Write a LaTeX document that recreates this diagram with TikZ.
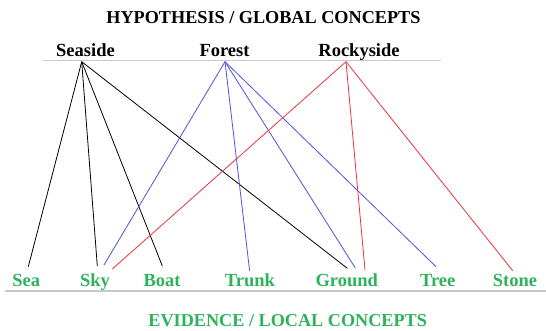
\documentclass[tikz,border=0pt]{standalone}
\usepackage{fontspec}
\setmainfont{Liberation Serif}
\definecolor{lblgreen}{RGB}{46,178,92}
\definecolor{lnblue}{RGB}{80,80,230}
\definecolor{lnred}{RGB}{238,50,60}
\definecolor{rulegray}{RGB}{200,200,200}
\begin{document}
\begin{tikzpicture}[x=1pt,y=-1pt,
  lbl/.style={inner sep=0pt,anchor=base,font=\fontsize{18.5}{20}\selectfont\bfseries},
  toplbl/.style={lbl,text=black},
  botlbl/.style={lbl,text=lblgreen},
  heading/.style={inner sep=0pt,anchor=base,font=\fontsize{18.2}{20}\selectfont\bfseries},
  rule/.style={draw=rulegray,line width=1.2pt},
  lk/.style={line width=0.8pt}]
\useasboundingbox (0,0) rectangle (546,330);
% headings
\node[heading,text=black] (hyp) at (263.4,23.3) {HYPOTHESIS / GLOBAL CONCEPTS};
\node[heading,text=lblgreen] (evi) at (287.7,326.7) {EVIDENCE / LOCAL CONCEPTS};
% top labels
\node[toplbl] (seaside) at (85.5,56) {Seaside};
\node[toplbl] (forest) at (224.5,56) {Forest};
\node[toplbl] (rocky) at (359,56) {Rockyside};
% bottom labels
\node[botlbl] (sea) at (26.2,286) {Sea};
\node[botlbl] (sky) at (95,286) {Sky};
\node[botlbl] (boat) at (162,286) {Boat};
\node[botlbl] (trunk) at (250,286) {Trunk};
\node[botlbl] (ground) at (346.7,286) {Ground};
\node[botlbl] (tree) at (437.7,286) {Tree};
\node[botlbl] (stone) at (515,286) {Stone};
% rules
\coordinate (topL) at (43,60.7);
\coordinate (topR) at (441,60.7);
\coordinate (botL) at (5,291);
\coordinate (botR) at (546,291);
\draw[rule] (topL) -- (topR);
\draw[rule] (botL) -- (botR);
% connector ends
\coordinate (pS) at (81.7,61.7);
\coordinate (pF) at (225,61.7);
\coordinate (pR) at (346,61.7);
\coordinate (seaT) at (28.3,266.7);
\coordinate (skyK) at (97.3,266);
\coordinate (skyB) at (104,265);
\coordinate (skyR) at (112.3,269);
\coordinate (boatT) at (162.3,266);
\coordinate (trunkT) at (249.6,270.7);
\coordinate (groundK) at (347.3,268.3);
\coordinate (groundB) at (355.3,268);
\coordinate (groundR) at (365,270);
\coordinate (treeT) at (436,266.7);
\coordinate (stoneT) at (512.7,270.7);
% Seaside
\draw[lk,black] (pS) -- (seaT);
\draw[lk,black] (pS) -- (skyK);
\draw[lk,black] (pS) -- (boatT);
\draw[lk,black] (pS) -- (groundK);
% Forest
\draw[lk,lnblue] (pF) -- (skyB);
\draw[lk,lnblue] (pF) -- (trunkT);
\draw[lk,lnblue] (pF) -- (groundB);
\draw[lk,lnblue] (pF) -- (treeT);
% Rockyside
\draw[lk,lnred] (pR) -- (skyR);
\draw[lk,lnred] (pR) -- (groundR);
\draw[lk,lnred] (pR) -- (stoneT);
\end{tikzpicture}
\end{document}
